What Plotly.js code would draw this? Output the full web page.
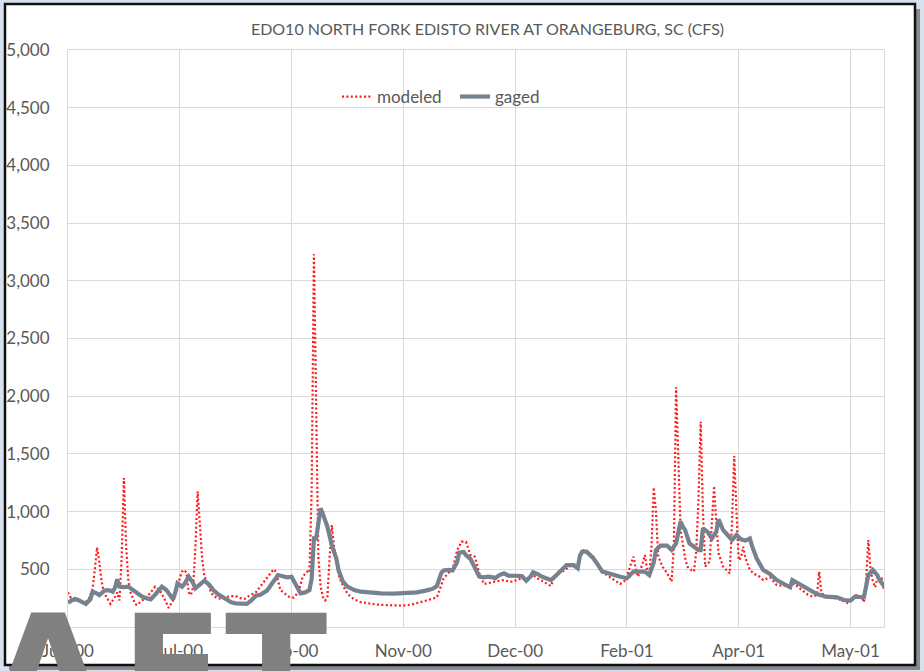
<!DOCTYPE html>
<html>
<head>
<meta charset="utf-8">
<script src="https://cdn.plot.ly/plotly-3.0.1.min.js"></script>
<style>html,body{margin:0;padding:0;background:#d7e2ee;}#chart{width:924px;height:671px;}</style>
</head>
<body>
<div id="chart"></div>
<script>
// Daily flow, day offsets counted from 8 June 2000
const startDate = '2000-06-08';
const gagedDays = [0,2,4,6,8,10,11,13,14,16,17,19,20,21,22,23,25,27,29,31,33,35,37,39,42,44,46,47,48,49,51,52,54,56,57,59,61,63,65,67,69,71,73,75,78,80,82,84,86,89,91,93,94,96,98,100,102,104,106,108,109,110,111,113,114,116,118,120,121,123,125,128,131,134,140,146,152,156,160,163,165,167,168,170,172,174,175,177,178,180,181,183,184,186,188,190,191,193,195,197,199,201,203,205,207,208,210,212,214,216,218,220,222,223,226,228,229,230,232,234,235,237,239,241,243,245,247,250,252,253,256,258,260,262,263,265,268,270,272,274,275,276,278,280,282,283,284,286,288,290,291,293,295,297,299,301,303,305,306,308,311,314,317,320,323,324,327,330,335,339,344,347,350,352,354,356,358,360,362,363,365];
const gagedCfs = [210,235,240,220,200,240,306,290,277,310,320,315,306,340,413,350,345,350,320,285,265,250,240,280,350,320,270,240,300,378,350,370,436,380,335,370,401,370,320,286,260,235,214,205,200,200,230,271,280,315,370,430,450,440,430,436,370,292,300,320,420,768,768,1028,980,870,710,595,495,393,350,320,306,300,292,290,297,300,315,330,355,470,490,495,490,560,644,650,624,590,552,480,436,430,436,430,422,450,465,445,442,445,442,401,440,474,460,436,420,407,440,480,530,537,537,509,620,653,653,620,595,540,480,470,457,445,436,422,460,480,480,480,450,560,667,705,705,667,725,913,870,841,725,690,667,667,855,826,768,826,933,841,790,754,797,760,749,768,700,595,494,459,407,378,344,407,373,335,286,263,257,234,228,263,263,257,450,494,450,407,355];
const modeledDays = [0,1,3,5,7,9,11,12,13,14,15,16,18,19,21,22,23,24,25,26,27,28,30,31,33,35,37,39,41,43,45,47,48,50,51,52,53,54,55,56,57,58,59,60,61,62,64,65,67,69,71,73,75,77,79,81,84,87,90,92,93,95,97,99,101,103,105,107,108,109,110,111,112,113,114,115,116,117,118,119,120,121,122,124,126,128,131,134,138,142,146,150,154,157,160,163,165,167,168,170,172,174,176,178,180,182,184,186,188,190,192,195,197,199,201,203,205,207,208,210,212,214,216,218,220,222,224,226,228,230,231,233,235,237,239,241,243,245,247,249,250,252,253,254,255,257,258,259,260,261,262,263,264,266,268,270,271,272,273,274,276,277,279,280,281,282,283,284,285,287,288,289,290,291,293,295,296,297,298,299,300,301,302,303,305,307,309,311,314,317,320,323,325,327,329,331,333,335,336,337,339,341,343,345,347,349,351,352,354,355,356,357,358,359,360,361,362,364,365];
const modeledCfs = [300,260,250,230,210,230,330,500,690,560,400,300,240,200,260,300,230,600,1290,700,400,300,200,190,230,250,300,350,320,250,165,230,300,420,480,494,470,300,277,350,700,1173,850,595,436,400,300,270,250,243,260,268,268,250,243,270,300,378,450,500,480,320,290,260,254,300,436,480,470,1200,3230,1700,600,350,260,230,250,600,884,700,550,450,400,320,270,240,215,205,195,190,187,185,196,210,228,245,257,364,420,465,495,661,739,739,624,610,465,373,380,384,390,407,395,393,410,422,407,430,450,420,401,380,355,450,470,490,522,540,552,640,673,640,610,540,480,450,422,400,373,400,436,560,610,500,436,550,624,500,450,700,1210,1000,610,520,465,393,700,2077,1500,841,600,524,490,480,652,1100,1779,1000,524,566,900,1222,900,638,524,490,465,900,1482,1000,580,600,696,600,494,460,440,407,430,364,355,364,373,340,306,280,263,277,480,292,270,263,250,240,220,205,250,277,270,263,214,400,754,494,400,344,422,422,315];
const yTickVals = [500,1000,1500,2000,2500,3000,3500,4000,4500,5000];
const titleText = 'EDO10 NORTH FORK EDISTO RIVER AT ORANGEBURG, SC (CFS)';
const watermark = ['A','E','T'];

const DAY = 86400000;
const t0 = Date.UTC(2000, 5, 8);
const toDate = d => new Date(t0 + d * DAY).toISOString().slice(0, 10);

// layout helpers (plot area 68..884 x 50..627)
const L = 68, R = 884, T = 50, B = 627, W = 924, H = 671;
const px = x => (x - L) / (R - L);
const py = y => (B - y) / (B - T);

const FONT = 'Lato, "Open Sans", sans-serif';
const traces = [
  {
    x: modeledDays.map(toDate), y: modeledCfs, name: 'modeled', type: 'scatter', mode: 'lines',
    line: {color: '#ff1a1a', width: 2.2, dash: '2px,2.4px'}
  },
  {
    x: gagedDays.map(toDate), y: gagedCfs, name: 'gaged', type: 'scatter', mode: 'lines',
    line: {color: '#76828f', width: 4.2}
  }
];

const layout = {
  width: W, height: H,
  margin: {l: L, r: W - R, t: T, b: H - B, pad: 0},
  paper_bgcolor: '#d7e2ee',
  plot_bgcolor: 'rgba(0,0,0,0)',
  font: {family: FONT, color: '#595959', size: 16},
  title: {
    text: titleText, font: {family: FONT, size: 16, color: '#595959'},
    xref: 'container', yref: 'container', x: 487.5 / W, xanchor: 'center', y: 1 - 29 / H, yanchor: 'middle'
  },
  showlegend: true,
  legend: {
    orientation: 'h', x: px(337), xanchor: 'left', y: py(97), yanchor: 'middle',
    bgcolor: 'rgba(0,0,0,0)', font: {family: FONT, size: 17, color: '#595959'},
    entrywidth: 73, entrywidthmode: 'pixels', tracegroupgap: 0, itemwidth: 30
  },
  xaxis: {
    type: 'date', range: [toDate(0), toDate(365)], tick0: toDate(0), dtick: 50 * DAY,
    tickformat: '%b-%y', showgrid: true, gridcolor: '#d9d9d9', gridwidth: 1,
    showline: true, linecolor: '#d9d9d9', linewidth: 1, mirror: true,
    ticks: '', ticklabelstandoff: 9, zeroline: false,
    tickfont: {family: FONT, size: 17, color: '#595959'}, fixedrange: true
  },
  yaxis: {
    range: [0, 5000], tickvals: yTickVals, tickformat: ',d',
    showgrid: true, gridcolor: '#d9d9d9', gridwidth: 1,
    showline: true, linecolor: '#d9d9d9', linewidth: 1, mirror: true,
    ticks: '', ticklabelstandoff: 14, zeroline: false,
    tickfont: {family: FONT, size: 17, color: '#595959'}, fixedrange: true
  },
  shapes: [
    {type: 'rect', xref: 'paper', yref: 'paper', layer: 'below',
     x0: px(9), x1: px(920), y0: py(9), y1: py(670), fillcolor: '#8a8a8a', line: {width: 0}},
    {type: 'rect', xref: 'paper', yref: 'paper', layer: 'below',
     x0: px(5), x1: px(915), y0: py(4), y1: py(665), fillcolor: '#ffffff', line: {color: '#111111', width: 2.5}}
  ],
  annotations: [
    {text: watermark[0], x: px(47.5), xanchor: 'center'},
    {text: watermark[1], x: px(119), xanchor: 'left'},
    {text: watermark[2], x: px(275.5), xanchor: 'center'}
  ].map(a => Object.assign({
    xref: 'paper', yref: 'paper', y: py(581), yanchor: 'top', showarrow: false,
    font: {family: 'DejaVu Sans', size: 150, color: '#808080', weight: 'bold'}
  }, a))
};

Plotly.newPlot('chart', traces, layout, {staticPlot: true, displayModeBar: false});
</script>
</body>
</html>
